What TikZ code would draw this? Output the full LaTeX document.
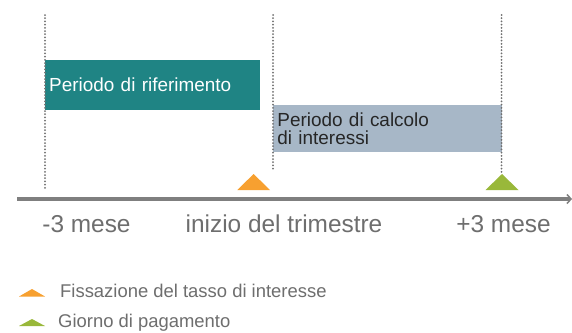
\documentclass[tikz,border=0pt]{standalone}
\usepackage{fontspec}
\setmainfont{Liberation Sans}
\usetikzlibrary{arrows.meta}
\definecolor{teal1}{HTML}{1F8484}
\definecolor{slate1}{HTML}{A7B7C7}
\definecolor{orange1}{HTML}{F7A030}
\definecolor{green1}{HTML}{99B83A}
\definecolor{axisgray}{HTML}{7F7F7F}
\definecolor{labgray}{HTML}{6E6E6E}
\definecolor{dotgray}{HTML}{707070}
\begin{document}
\begin{tikzpicture}[x=1bp,y=-1bp,
  guide/.style={draw=dotgray,line width=2bp,line cap=round,dash pattern=on 0bp off 3.2bp},
  period/.style={anchor=north west,inner sep=4bp,align=left,font=\fontsize{19}{19}\selectfont},
  axislab/.style={anchor=base,text=labgray,font=\fontsize{24.5}{28}\selectfont,inner sep=0pt},
  leglab/.style={anchor=base west,text=labgray,font=\fontsize{18.5}{20}\selectfont,inner sep=0pt}]
\useasboundingbox[fill=white] (0,0) rectangle (572,332);
% guides
\coordinate (g1t) at (45,15); \coordinate (g1b) at (45,191);
\coordinate (g2t) at (273,15); \coordinate (g2b) at (273,171);
\coordinate (g3t) at (501.5,15); \coordinate (g3b) at (501.5,172);
% boxes
\node[period,fill=teal1,text=white,minimum width=215bp,minimum height=50bp,text width=207bp] (rif) at (45,60) {Periodo di riferimento};
\node[period,fill=slate1,text=black!85,minimum width=228.5bp,minimum height=47bp,text width=220bp] (calc) at (273,105) {Periodo di calcolo\\di interessi};
\draw[guide] (g1t) -- (g1b);
\draw[guide] (g2t) -- (g2b);
\draw[guide] (g3t) -- (g3b);
% axis
\coordinate (a0) at (17,199);
\coordinate (a1) at (572,199);
\draw[axisgray,line width=3.5bp,-{Straight Barb[length=4bp,width=9bp,line width=1.5bp]}] (a0) -- (a1);
% triangles
\fill[orange1] (237.3,190) -- (270,190) -- (253.6,174) -- cycle;
\fill[green1] (485.5,190) -- (518.5,190) -- (502,174) -- cycle;
% axis labels
\node[axislab] (m3) at (86.5,232) {-3 mese};
\node[axislab] (it) at (284,232) {inizio del trimestre};
\node[axislab] (p3) at (503.5,232) {+3 mese};
% legend
\fill[orange1] (19,296.5) -- (45,296.5) -- (32,289) -- cycle;
\fill[green1] (19,326) -- (45,326) -- (32,319) -- cycle;
\node[leglab] (l1) at (60,297) {Fissazione del tasso di interesse};
\node[leglab] (l2) at (58,327) {Giorno di pagamento};
\end{tikzpicture}
\end{document}
